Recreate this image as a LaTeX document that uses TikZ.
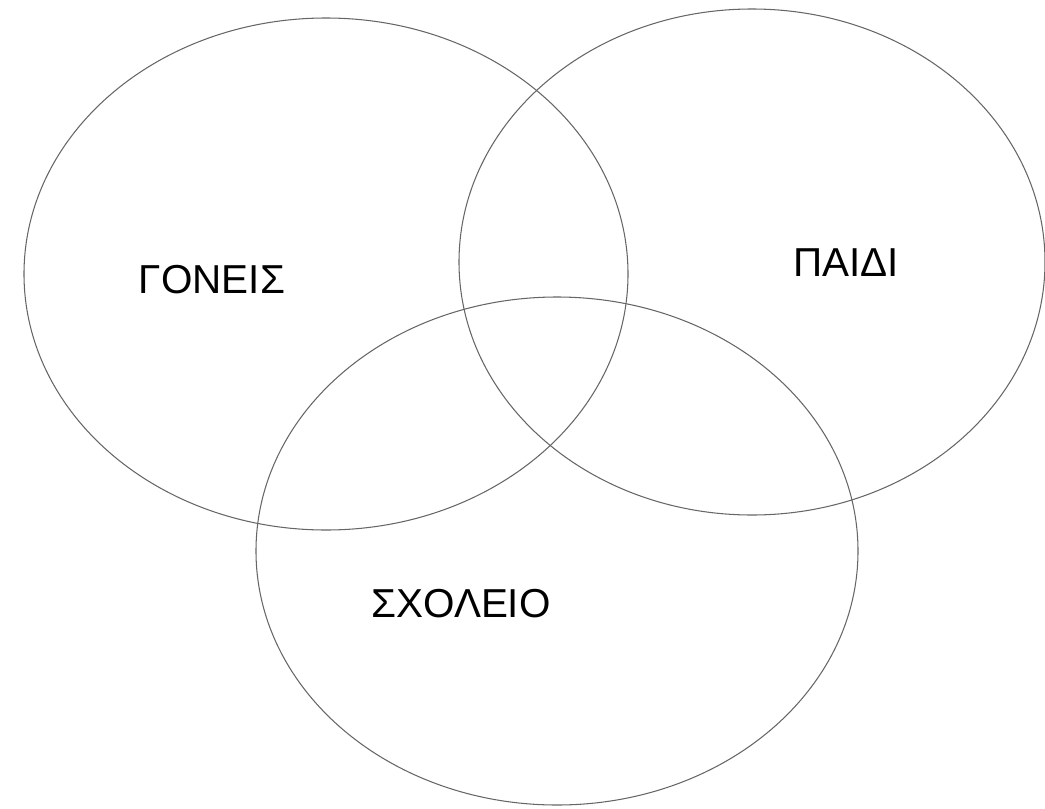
\documentclass[tikz,border=0pt]{standalone}
\usepackage{fontspec}
\setmainfont{Liberation Sans}
\usetikzlibrary{shapes.geometric}

\begin{document}
\begin{tikzpicture}[
    set/.style={draw=black!60, line width=0.6pt, ellipse, inner sep=0pt, outer sep=0pt},
    lbl/.style={font=\fontsize{23}{27}\selectfont, inner sep=0pt},
]
    \useasboundingbox (0,0) rectangle (20.9,-16.16);

    % Sets
    \node[set, minimum width=12.08cm, minimum height=10.24cm] (goneis) at (6.52,-5.48) {};
    \node[set, minimum width=11.72cm, minimum height=10.12cm] (paidi) at (15.04,-5.24) {};
    \node[set, minimum width=12.04cm, minimum height=10.16cm] (sxoleio) at (11.14,-11.02) {};

    % Labels
    \node[lbl] (goneisL) at (4.24,-5.6) {ΓΟΝΕΙΣ};
    \node[lbl] (paidiL) at (16.92,-5.26) {ΠΑΙΔΙ};
    \node[lbl] (sxoleioL) at (9.22,-12.08) {ΣΧΟΛΕΙΟ};
\end{tikzpicture}
\end{document}
